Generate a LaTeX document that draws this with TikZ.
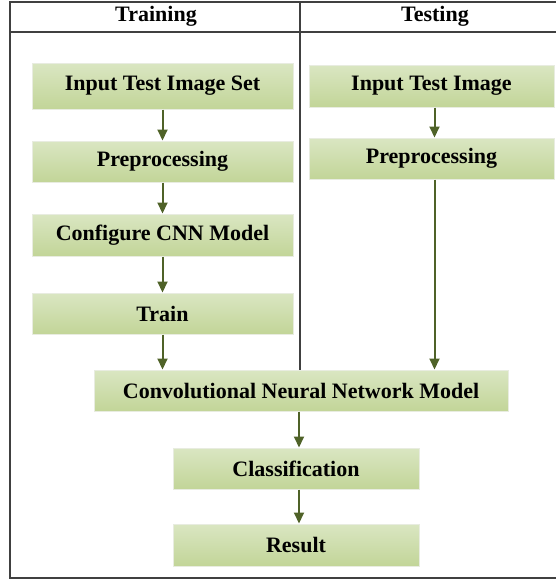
\documentclass[tikz,border=0pt]{standalone}
\usepackage{fontspec}
\setmainfont{Liberation Serif}
\usepackage{tikz}
\usetikzlibrary{arrows.meta}
\definecolor{boxtop}{RGB}{218,230,194}
\definecolor{boxbottom}{RGB}{194,213,152}
\definecolor{boxedge}{RGB}{232,236,224}
\definecolor{arrowgreen}{RGB}{79,98,40}
\definecolor{framegray}{RGB}{64,64,64}

\tikzset{
  stage/.style={draw=boxedge, line width=1pt, top color=boxtop, bottom color=boxbottom,
    inner sep=0pt, font=\fontsize{22}{26}\selectfont\bfseries},
  flow/.style={arrowgreen, line width=2pt, -{Triangle[width=10pt,length=11pt]}},
  frame/.style={framegray, line width=1.5pt},
}

\begin{document}
\begin{tikzpicture}[x=1pt, y=-1pt]
  \useasboundingbox (0,0) rectangle (556,579);
  % Training column
  \node[stage, minimum width=261pt, minimum height=46pt] (setin) at (162.5, 86) {Input Test Image Set};
  \node[stage, minimum width=261pt, minimum height=41pt] (prepL) at (162.5, 161.5) {Preprocessing};
  \node[stage, minimum width=261pt, minimum height=42pt] (config) at (162.5, 235) {Configure CNN Model};
  \node[stage, minimum width=261pt, minimum height=41pt] (train) at (162.5, 313.5) {Train};
  % Testing column
  \node[stage, minimum width=245pt, minimum height=42pt] (imgin) at (431.5, 86) {Input Test Image};
  \node[stage, minimum width=245pt, minimum height=41pt] (prepR) at (431.5, 158.5) {Preprocessing};
  % Shared part
  \node[stage, minimum width=414pt, minimum height=41pt] (cnn) at (301, 390.5) {Convolutional Neural Network Model};
  \node[stage, minimum width=246pt, minimum height=41pt] (classif) at (296, 468.5) {Classification};
  \node[stage, minimum width=246pt, minimum height=42pt] (result) at (296, 545) {Result};
  % Table frame and headings
  \draw[frame] (556,2) -- (10,2) -- (10,578) -- (556,578);
  \draw[frame] (10,32) -- (556,32);
  \draw[frame] (300,2) -- (300,2 |- cnn.north);
  \node[font=\fontsize{22}{26}\selectfont\bfseries] (hdtrain) at (156,16) {Training};
  \node[font=\fontsize{22}{26}\selectfont\bfseries] (hdtest) at (435,16) {Testing};
  % Arrows
  \draw[flow] (setin) -- (prepL);
  \draw[flow] (prepL) -- (config);
  \draw[flow] (config) -- (train);
  \draw[flow] (train.south) -- (train.south |- cnn.north);
  \draw[flow] ([xshift=3pt]imgin.south) -- ([xshift=3pt]prepR.north);
  \draw[flow] ([xshift=3pt]prepR.south) -- ([xshift=3pt]prepR.south |- cnn.north);
  \draw[flow] ([xshift=-2pt]cnn.south) -- ([xshift=-2pt]cnn.south |- classif.north);
  \draw[flow] ([xshift=3pt]classif.south) -- ([xshift=3pt]result.north);
\end{tikzpicture}
\end{document}
